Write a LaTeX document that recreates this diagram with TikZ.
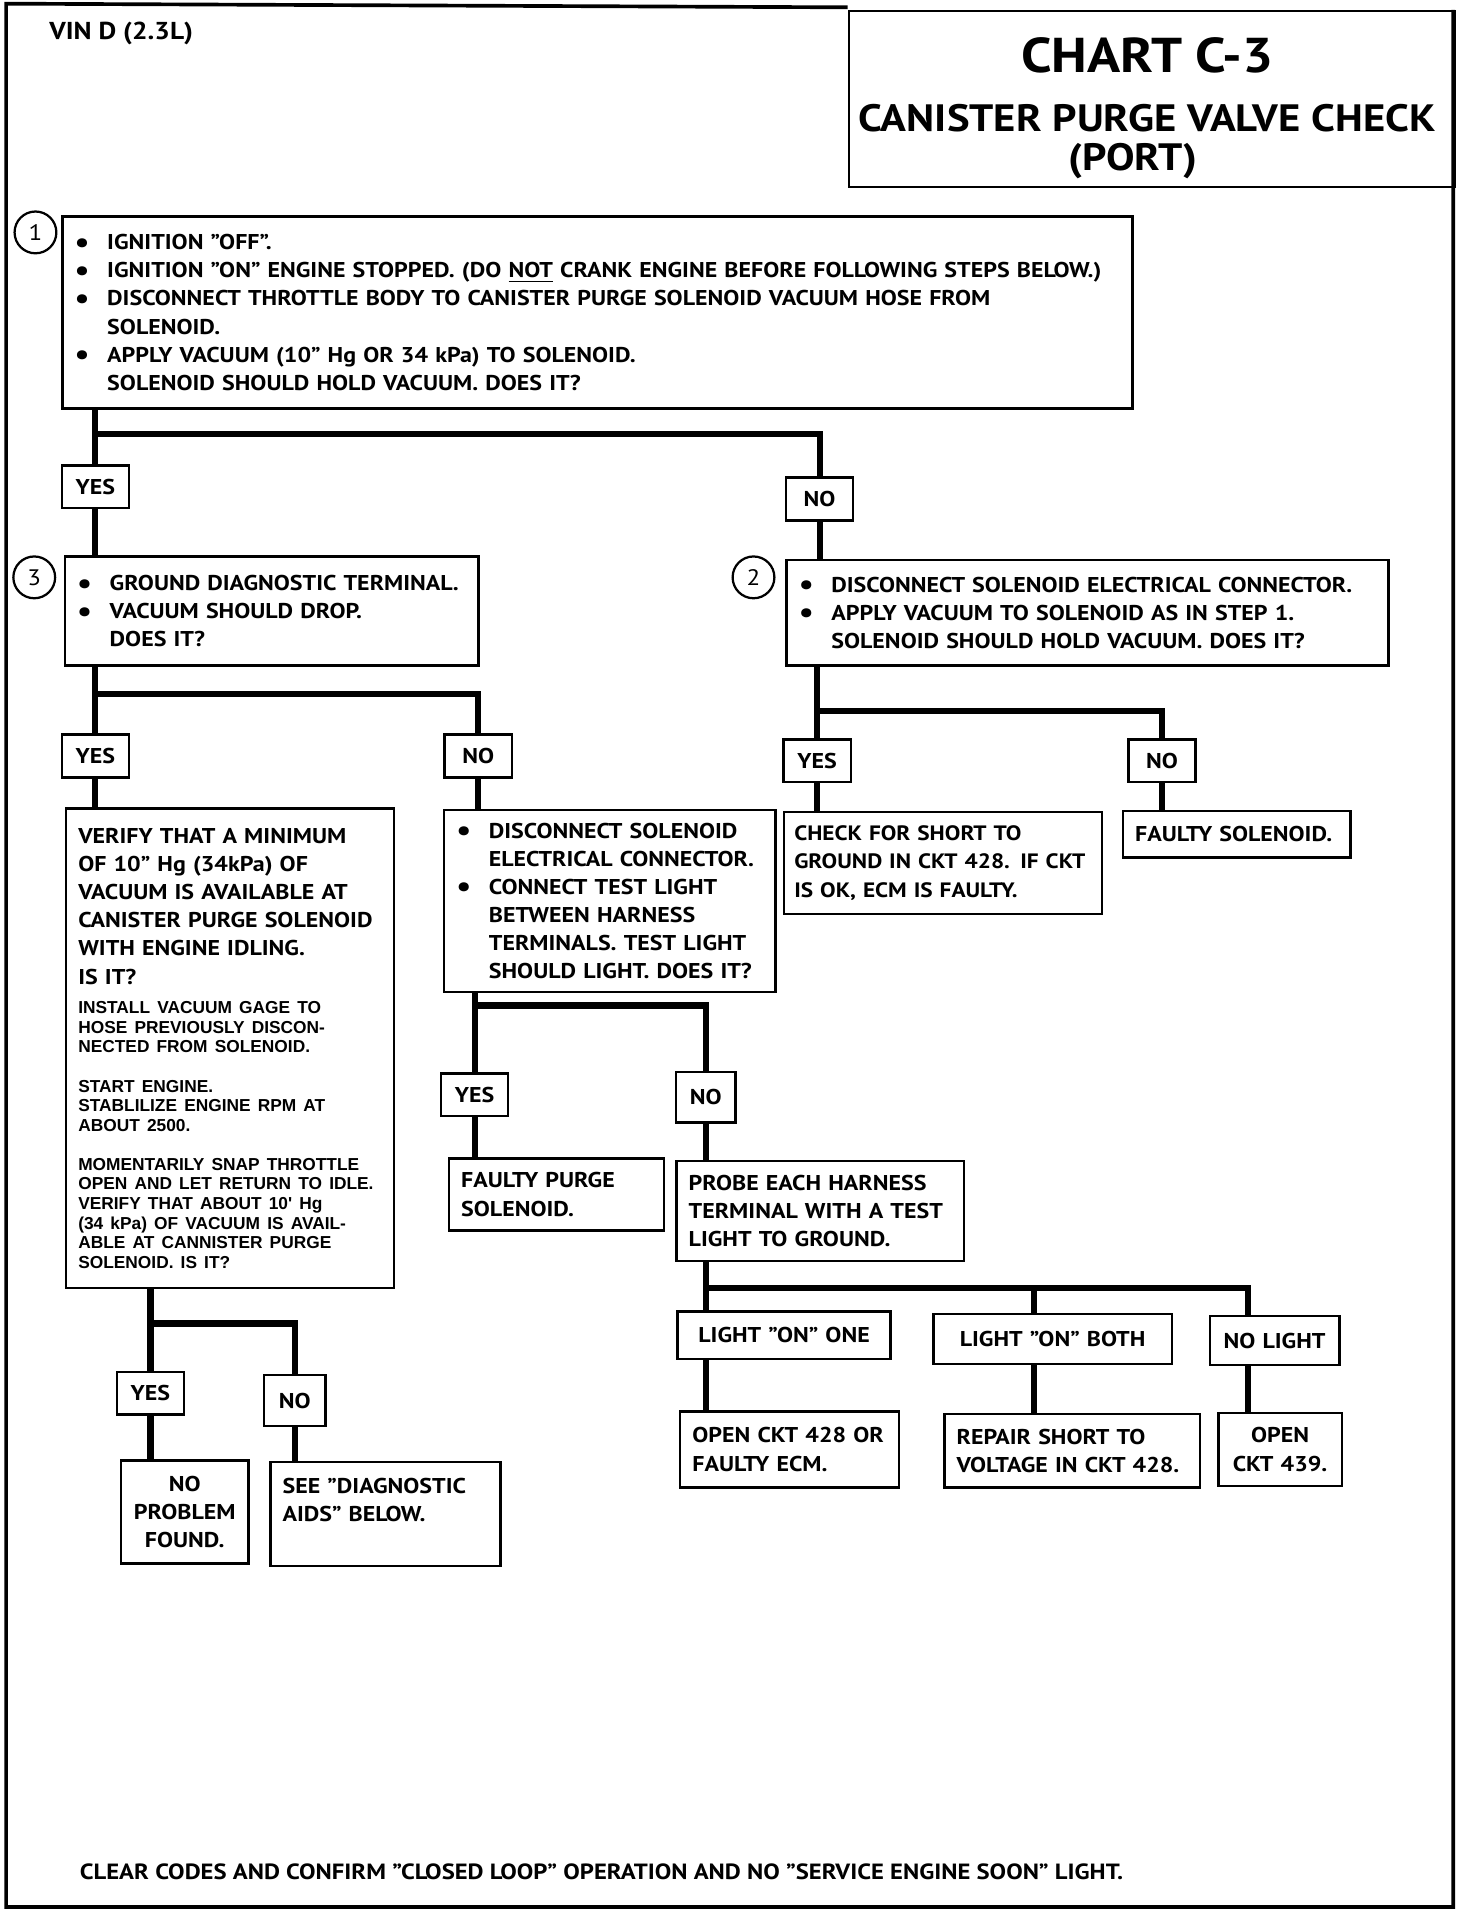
\documentclass[tikz,border=0pt]{standalone}
\usepackage{fontspec}
\setmainfont{PT Sans}[FakeStretch=1.12]
\newfontfamily\helv{Liberation Sans}

\tikzset{
  stepbox/.style={draw, line width=1.2pt, anchor=north west, align=left, inner xsep=6pt, inner ysep=0pt},
  endbox/.style={stepbox, align=center},
  answer/.style={draw, line width=1.2pt, minimum width=33pt, minimum height=21pt, inner sep=0pt},
  stepnum/.style={draw, circle, line width=1.1pt, minimum size=20.5pt, inner sep=0pt, font=\fontsize{11}{13}\selectfont\mdseries},
  link/.style={line width=3pt},
}
\newcommand{\bul}{\makebox[16pt][l]{\smash{\raisebox{-1.3pt}{\fontsize{14.5}{13.8}\selectfont\textbullet}}}}
\newcommand{\ind}{\hspace*{16pt}}

\begin{document}
\begin{tikzpicture}[x=0.6pt, y=-0.6pt, font=\fontsize{10.5}{13.8}\selectfont\bfseries]
  \useasboundingbox (0,0) rectangle (1203,1568);

  % page frame
  \draw[line width=1.8pt] (693,6) -- (5,3) -- (5,1559) -- (1188,1559) -- (1188,8);

  % heading
  \node[anchor=west, inner xsep=0pt, font=\fontsize{12}{14}\selectfont\bfseries] (vin) at (40,27) {VIN D (2.3L)};
  \node[draw, line width=1.2pt, anchor=north west, minimum width=297pt, minimum height=86.4pt] (title) at (693,8) {};
  \node[font=\fontsize{24}{28}\selectfont\bfseries] (chart) at (938,45) {CHART C-3};
  \node[font=\fontsize{18.7}{22}\selectfont\bfseries] (name) at (938,97) {CANISTER PURGE VALVE CHECK};
  \node[font=\fontsize{18.7}{22}\selectfont\bfseries] (port) at (926,132) {(PORT)};

  % step 1
  \node[stepbox, text width=513pt, minimum height=94.2pt] (s1) at (50,176)
    {\bul IGNITION "OFF".\\
     \bul IGNITION "ON" ENGINE STOPPED. (DO \underline{NOT} CRANK ENGINE BEFORE FOLLOWING STEPS BELOW.)\\
     \bul DISCONNECT THROTTLE BODY TO CANISTER PURGE SOLENOID VACUUM HOSE FROM\\
     \ind SOLENOID.\\
     \bul APPLY VACUUM (10" Hg OR 34 kPa) TO SOLENOID.\\
     \ind SOLENOID SHOULD HOLD VACUUM. DOES IT?};
  \node[stepnum] (num1) at (29,190) {1};

  \node[answer] (yes1) at (78,398) {YES};
  \node[answer] (no1) at (670,408) {NO};

  % step 3
  \node[stepbox, text width=190.8pt, minimum height=53.4pt] (s3) at (52,454)
    {\bul GROUND DIAGNOSTIC TERMINAL.\\
     \bul VACUUM SHOULD DROP.\\
     \ind DOES IT?};
  \node[stepnum] (num3) at (28,472) {3};

  % step 2
  \node[stepbox, text width=283.2pt, minimum height=51.6pt] (s2) at (642,457)
    {\bul DISCONNECT SOLENOID ELECTRICAL CONNECTOR.\\
     \bul APPLY VACUUM TO SOLENOID AS IN STEP 1.\\
     \ind SOLENOID SHOULD HOLD VACUUM. DOES IT?};
  \node[stepnum] (num2) at (616,472) {2};

  \node[answer] (yes2) at (78,618) {YES};
  \node[answer] (no2) at (391,618) {NO};
  \node[answer] (yes3) at (668,622) {YES};
  \node[answer] (no3) at (950,622) {NO};

  % vacuum at idle
  \node[stepbox, text width=148.8pt, minimum height=235.2pt] (vac) at (53,660)
    {VERIFY THAT A MINIMUM\\ OF 10" Hg (34kPa) OF\\ VACUUM IS AVAILABLE AT\\
     CANISTER PURGE SOLENOID\\ WITH ENGINE IDLING.\\ IS IT?\par
     \vspace{5pt}\helv\fontsize{8.5}{9.6}\selectfont
     INSTALL VACUUM GAGE TO\\ HOSE PREVIOUSLY DISCON-\\ NECTED FROM SOLENOID.\\[9.6pt]
     START ENGINE.\\ STABLILIZE ENGINE RPM AT\\ ABOUT 2500.\\[9.6pt]
     MOMENTARILY SNAP THROTTLE\\ OPEN AND LET RETURN TO IDLE.\\ VERIFY THAT ABOUT 10' Hg\\
     (34 kPa) OF VACUUM IS AVAIL-\\ ABLE AT CANNISTER PURGE\\ SOLENOID. IS IT?\par};

  % test light
  \node[stepbox, text width=150.6pt, minimum height=89.4pt] (lamp) at (362,661)
    {\bul DISCONNECT SOLENOID\\
     \ind ELECTRICAL CONNECTOR.\\
     \bul CONNECT TEST LIGHT\\
     \ind BETWEEN HARNESS\\
     \ind TERMINALS. TEST LIGHT\\
     \ind SHOULD LIGHT. DOES IT?};

  \node[stepbox, inner xsep=5pt, text width=146pt, minimum height=49.8pt, font=\fontsize{10.2}{13.8}\selectfont\bfseries] (short) at (640,663)
    {CHECK FOR SHORT TO\\ GROUND IN CKT 428. IF CKT\\ IS OK, ECM IS FAULTY.};
  \node[stepbox, text width=99.6pt, minimum height=22.8pt] (badsol) at (917,662) {FAULTY SOLENOID.};

  \node[answer] (yes4) at (388,895) {YES};
  \node[answer, minimum width=29pt, minimum height=25pt] (no4) at (577,897) {NO};

  \node[stepbox, text width=93.6pt, minimum height=35.4pt] (badpurge) at (366,946) {FAULTY PURGE\\ SOLENOID.};
  \node[stepbox, text width=129pt, minimum height=49.2pt] (probe) at (552,948)
    {PROBE EACH HARNESS\\ TERMINAL WITH A TEST\\ LIGHT TO GROUND.};

  % probe results
  \node[endbox, text width=92.4pt, minimum height=23.4pt] (one) at (553,1071) {LIGHT "ON" ONE};
  \node[endbox, text width=105pt, minimum height=24.6pt] (both) at (762,1073) {LIGHT "ON" BOTH};
  \node[endbox, text width=51.6pt, minimum height=24pt] (none) at (988,1075) {NO LIGHT};
  \node[stepbox, text width=95.4pt, minimum height=37.2pt] (open428) at (555,1153) {OPEN CKT 428 OR\\ FAULTY ECM.};
  \node[stepbox, text width=113.4pt, minimum height=36pt] (short428) at (771,1155) {REPAIR SHORT TO\\ VOLTAGE IN CKT 428.};
  \node[endbox, text width=48.6pt, minimum height=36pt] (open439) at (995,1154) {OPEN\\ CKT 439.};

  % gage results
  \node[answer] (yes5) at (123,1139) {YES};
  \node[answer, minimum width=30pt, minimum height=25pt] (no5) at (241,1145) {NO};
  \node[endbox, text width=50.4pt, minimum height=50.4pt] (noprob) at (98,1193) {NO\\ PROBLEM\\ FOUND.};
  \node[stepbox, text width=100.8pt, minimum height=51pt] (diagaids) at (220,1194) {SEE "DIAGNOSTIC\\ AIDS" BELOW.\\ \mbox{}};

  \node[anchor=west, inner xsep=0pt, font=\fontsize{10.8}{13.8}\selectfont\bfseries] (clear) at (65,1530)
    {CLEAR CODES AND CONFIRM "CLOSED LOOP" OPERATION AND NO "SERVICE ENGINE SOON" LIGHT.};

  % connectors
  \coordinate (j1) at (78,355);
  \draw[link] (s1.south -| yes1) -- (yes1);
  \draw[link] (yes1) -- (yes1 |- s3.north);
  \draw[link] (j1) -| (no1);
  \draw[link] (no1) -- (no1 |- s2.north);

  \coordinate (j3) at (78,567);
  \draw[link] (s3.south -| yes2) -- (yes2);
  \draw[link] (yes2) -- (yes2 |- vac.north);
  \draw[link] (j3) -| (no2);
  \draw[link] (no2) -- (no2 |- lamp.north);

  \coordinate (j2) at (668,581);
  \draw[link] (s2.south -| yes3) -- (yes3);
  \draw[link] (yes3) -- (yes3 |- short.north);
  \draw[link] (j2) -| (no3);
  \draw[link] (no3) -- (no3 |- badsol.north);

  \coordinate (j4) at (388,822);
  \draw[link] (lamp.south -| yes4) -- (yes4);
  \draw[link] (yes4) -- (yes4 |- badpurge.north);
  \draw[link] (j4) -| (no4);
  \draw[link] (no4) -- (no4 |- probe.north);

  \coordinate (j5) at (577,1053);
  \coordinate (j6) at (845,1053);
  \coordinate (j7) at (1020,1053);
  \draw[link] (probe.south -| j5) -- (one.north -| j5);
  \draw[link] (j5) -- (j7) -- (none.north -| j7);
  \draw[link] (j6) -- (both.north -| j6);
  \draw[link] (one.south -| j5) -- (open428.north -| j5);
  \draw[link] (both.south -| j6) -- (short428.north -| j6);
  \draw[link] (none.south -| j7) -- (open439.north -| j7);

  \coordinate (j8) at (123,1082);
  \draw[link] (vac.south -| yes5) -- (yes5);
  \draw[link] (yes5) -- (yes5 |- noprob.north);
  \draw[link] (j8) -| (no5);
  \draw[link] (no5) -- (no5 |- diagaids.north);
\end{tikzpicture}
\end{document}
